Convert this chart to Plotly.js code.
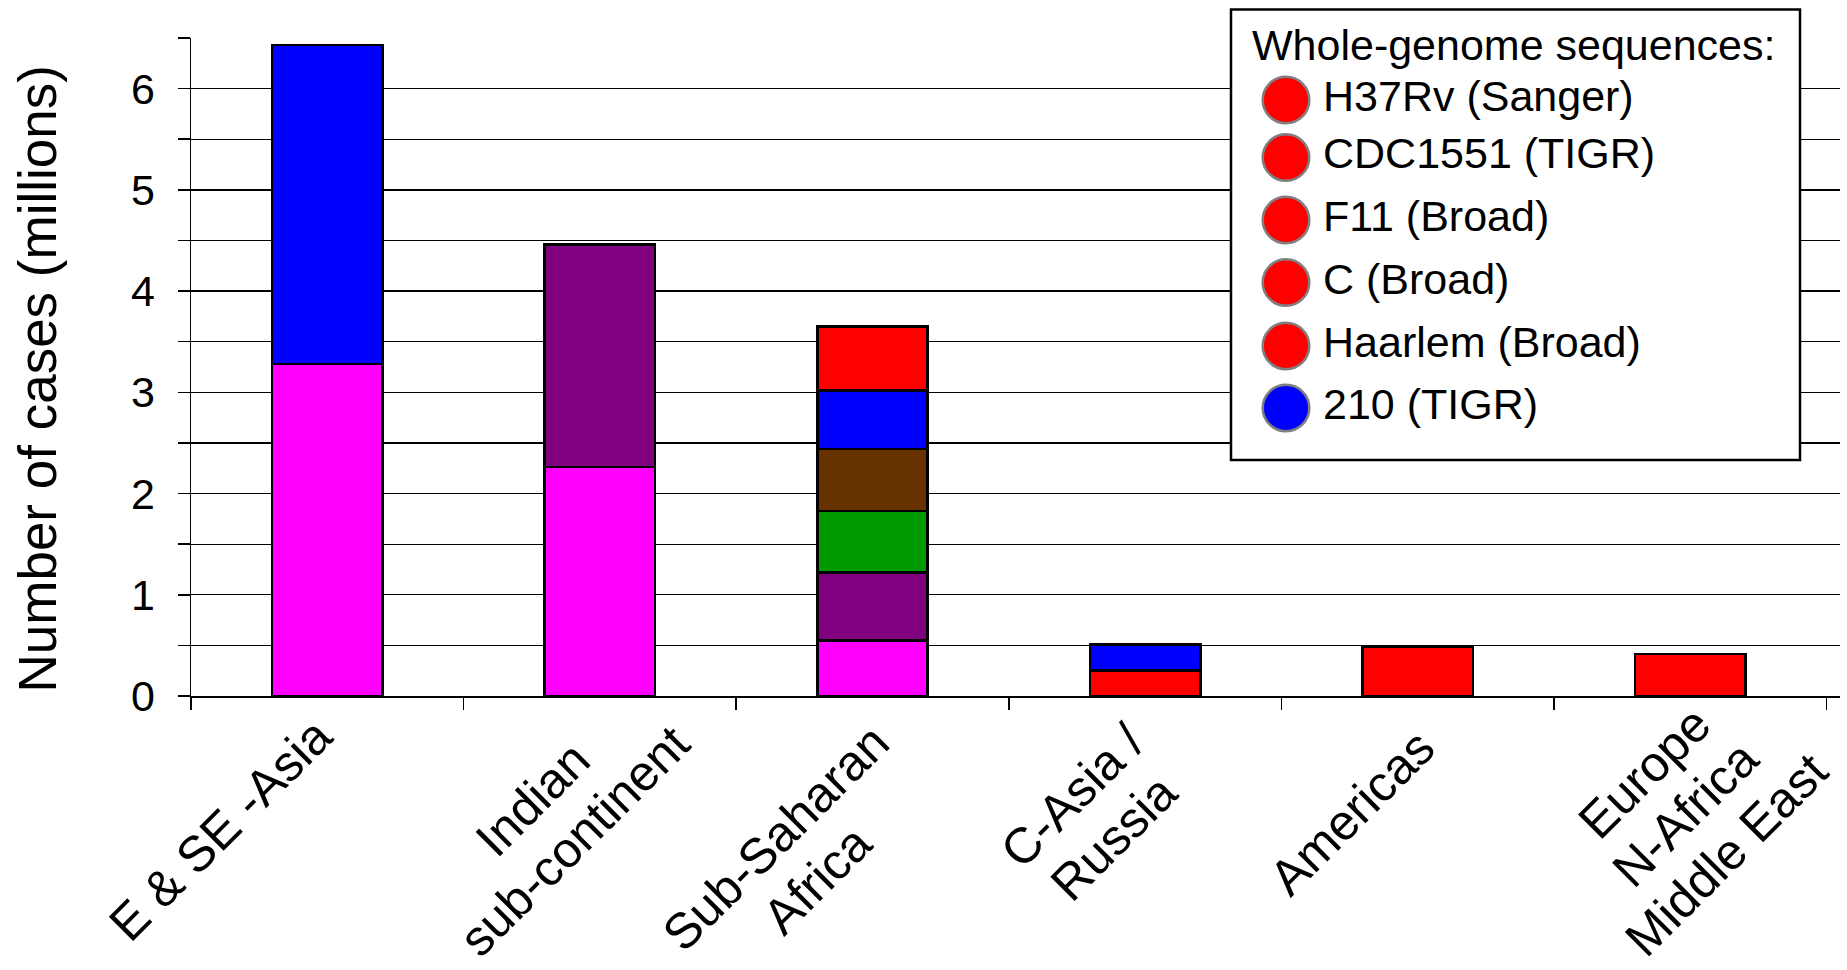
<!DOCTYPE html>
<html><head><meta charset="utf-8">
<script src="https://cdn.plot.ly/plotly-3.0.1.min.js"></script>
<style>html,body{margin:0;padding:0;background:#fff}</style>
</head><body><div id="chart" style="width:1847px;height:970px"></div>
<script>
// ---- data ----
const categories = ['E & SE Asia','Indian sub-continent','Sub-Saharan Africa','C-Asia / Russia','Americas','Europe N-Africa Middle East'];
const tickLabels = ['E & SE -Asia','Indian<br>sub-continent','Sub-Saharan<br>Africa','C-Asia /<br>Russia','Americas','Europe<br>N-Africa<br>Middle East'];
const magentaValues  = [3.28, 2.26, 0.55, null, null, null];
const purpleValues   = [null, 2.20, 0.67, null, null, null];
const greenValues    = [null, null, 0.61, null, null, null];
const brownValues    = [null, null, 0.61, null, null, null];
const redLowerValues = [null, null, null, 0.25, 0.49, 0.415];
const blueValues     = [3.15, null, 0.58, 0.26, null, null];
const redUpperValues = [null, null, 0.63, null, null, null];
const yTickVals = [0, 1, 2, 3, 4, 5, 6];
const yTitle = 'Number of cases (millions)';
const legendTitle = 'Whole-genome sequences:';
const genomeNames  = ['H37Rv (Sanger)', 'CDC1551 (TIGR)', 'F11 (Broad)', 'C (Broad)', 'Haarlem (Broad)', '210 (TIGR)'];
const genomeColors = ['#FF0000', '#FF0000', '#FF0000', '#FF0000', '#FF0000', '#0000FF'];

// ---- geometry ----
const W = 1847, H = 970, L = 191, R = 7, T = 38, B = 274;
const PW = W - L - R, PH = H - T - B;
const y0px = H - B;
const FONT = 'Arial, "Liberation Sans", sans-serif';
const px2x = p => (p - L) / PW;
const py2y = p => (y0px - p) / PH;

function barTrace(name, vals, color) {
  return {
    type: 'bar', name: name, x: categories, y: vals,
    marker: {color: color, line: {color: '#000', width: 2.5}},
    showlegend: false, hoverinfo: 'x+y+name'
  };
}
const data = [
  barTrace('Lineage (magenta)', magentaValues, '#FF00FF'),
  barTrace('Lineage (purple)', purpleValues, '#800080'),
  barTrace('Lineage (green)', greenValues, '#009900'),
  barTrace('Lineage (brown)', brownValues, '#663300'),
  barTrace('Lineage (red)', redLowerValues, '#FF0000'),
  barTrace('Lineage (blue)', blueValues, '#0000FF'),
  barTrace('Lineage (red) ', redUpperValues, '#FF0000')
];

const annotations = [];
const shapes = [];

// category labels, rotated, centred lines
const labelOffsets = [[-107,134],[-46,124],[-76,163],[-52,121],[-66,117],[-5,118]];
const lineStep = 58 * Math.SQRT1_2;
tickLabels.forEach((lab, i) => {
  const lines = lab.split('<br>');
  const n = lines.length;
  lines.forEach((ln, k) => {
    const kk = k - (n - 1) / 2;
    const dx = labelOffsets[i][0] + kk * lineStep;
    const dy = labelOffsets[i][1] + kk * lineStep;
    annotations.push({
      xref: 'x', yref: 'paper', x: categories[i], y: 0,
      xshift: dx, yshift: -dy, xanchor: 'center', yanchor: 'middle',
      text: ln, textangle: -45, showarrow: false, borderpad: 0,
      font: {family: FONT, size: 50, color: '#000'}
    });
  });
});

// y axis title
annotations.push({
  xref: 'paper', yref: 'paper', x: px2x(36.5), y: py2y(379),
  xanchor: 'center', yanchor: 'middle', textangle: -90, showarrow: false,
  text: yTitle, font: {family: FONT, size: 53, color: '#000'}
});

// legend box
shapes.push({
  type: 'rect', xref: 'paper', yref: 'paper', layer: 'above',
  x0: px2x(1231), x1: px2x(1800), y0: py2y(460), y1: py2y(9.5),
  line: {color: '#000', width: 2.5}, fillcolor: '#FFFFFF'
});
annotations.push({
  xref: 'paper', yref: 'paper', x: px2x(1250), y: py2y(45),
  xanchor: 'left', yanchor: 'middle', showarrow: false,
  text: legendTitle, font: {family: FONT, size: 43, color: '#000'}
});
const itemY = [100, 157.5, 220, 282.5, 346, 408];
genomeNames.forEach((nm, i) => {
  shapes.push({
    type: 'circle', layer: 'above',
    xref: 'paper', yref: 'paper', xsizemode: 'pixel', ysizemode: 'pixel',
    xanchor: px2x(1286), yanchor: py2y(itemY[i]),
    x0: -23.3, x1: 23.3, y0: -23.3, y1: 23.3,
    fillcolor: genomeColors[i], line: {color: '#808080', width: 2.5}
  });
  annotations.push({
    xref: 'paper', yref: 'paper', x: px2x(1321), y: py2y(itemY[i] - 4),
    xanchor: 'left', yanchor: 'middle', showarrow: false,
    text: nm, font: {family: FONT, size: 43, color: '#000'}
  });
});

const layout = {
  width: W, height: H,
  margin: {l: L, r: R, t: T, b: B, pad: 0},
  paper_bgcolor: '#fff', plot_bgcolor: '#fff',
  barmode: 'stack', bargap: 0.595,
  showlegend: false,
  font: {family: FONT, color: '#000'},
  xaxis: {
    type: 'category', categoryarray: categories, categoryorder: 'array',
    range: [-0.5, 5.549], tickson: 'boundaries',
    ticks: 'outside', ticklen: 12, tickwidth: 1.5, tickcolor: '#000',
    showticklabels: false, showgrid: false, zeroline: false,
    showline: true, linecolor: '#000', linewidth: 1.5, fixedrange: true
  },
  yaxis: {
    range: [0, 6.5], tickvals: yTickVals, ticks: 'outside', ticklen: 12,
    tickwidth: 1.5, tickcolor: '#000',
    tickfont: {family: FONT, size: 43, color: '#000'}, ticklabelstandoff: 14,
    showgrid: true, gridcolor: '#000', gridwidth: 1.3,
    minor: {dtick: 0.5, tick0: 0, ticks: 'outside', ticklen: 12, tickwidth: 1.5,
            tickcolor: '#000', showgrid: true, gridcolor: '#000', gridwidth: 1.3},
    zeroline: false, showline: true, linecolor: '#000', linewidth: 1.5, fixedrange: true
  },
  annotations: annotations,
  shapes: shapes
};

Plotly.newPlot('chart', data, layout, {displayModeBar: false, staticPlot: true});
</script></body></html>
